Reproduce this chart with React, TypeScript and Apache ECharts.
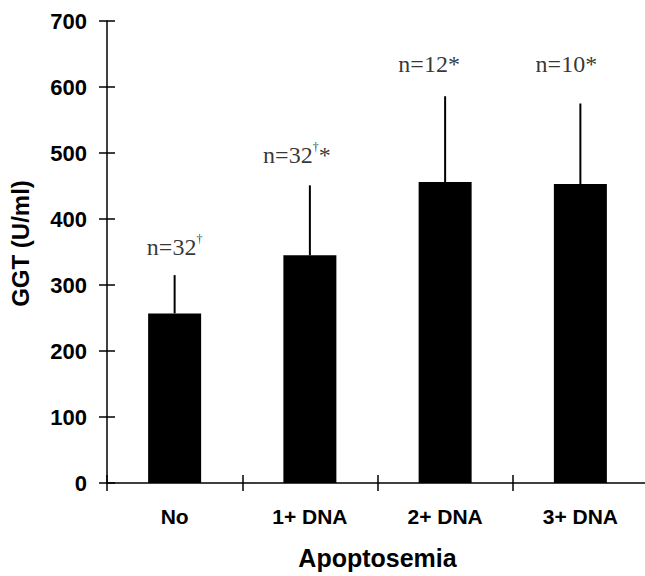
import React, { useEffect, useRef } from "react";
import * as echarts from "echarts";

const categories = ["No", "1+ DNA", "2+ DNA", "3+ DNA"];
const means = [257, 345, 456, 453];
const errUpper = [58, 106, 130, 122];
const groupN = ["32", "32", "12", "10"];
const groupSup = ["†", "†", "", ""];
const groupStar = ["", "*", "*", "*"];
const labelLevels = [357, 497, 635, 635];

const Y_MIN = 0;
const Y_MAX = 700;
const Y_STEP = 100;
const LABEL_SHIFT = [0, -13, -16, -14];

const SANS = "'Liberation Sans', Arial, Helvetica, sans-serif";
const SERIF = "'Liberation Serif', 'Times New Roman', serif";

export default function App() {
  const ref = useRef<HTMLDivElement>(null);

  useEffect(() => {
    if (!ref.current) return;
    const chart = echarts.init(ref.current, null, { renderer: "svg" });

    const axisLine = { show: true, lineStyle: { color: "#000", width: 1.5 } };
    const tickStyle = { color: "#000", width: 1.5 };

    const option: any = {
      animation: false,
      backgroundColor: "#fff",
      grid: {
        left: 107,
        right: -3,
        top: 21,
        bottom: 93,
        containLabel: false,
        outerBoundsMode: "none",
      },
      xAxis: [
        {
          type: "category",
          data: categories,
          position: "bottom",
          boundaryGap: true,
          axisLine,
          axisTick: { show: true, length: 8, inside: false, alignWithLabel: false, lineStyle: tickStyle },
          axisLabel: {
            margin: 23,
            color: "#000",
            fontFamily: SANS,
            fontWeight: "bold",
            fontSize: 21,
          },
          name: "Apoptosemia",
          nameLocation: "middle",
          nameGap: 62,
          nameTextStyle: { color: "#000", fontFamily: SANS, fontWeight: "bold", fontSize: 25 },
          splitLine: { show: false },
        },
        {
          type: "category",
          data: categories,
          position: "bottom",
          boundaryGap: true,
          axisLine: { show: false },
          axisTick: { show: true, length: 8, inside: true, lineStyle: tickStyle },
          axisLabel: { show: false },
          splitLine: { show: false },
        },
      ],
      yAxis: [
        {
          type: "value",
          min: Y_MIN,
          max: Y_MAX,
          interval: Y_STEP,
          position: "left",
          axisLine,
          axisTick: { show: true, length: 8, inside: false, lineStyle: tickStyle },
          axisLabel: {
            margin: 20,
            color: "#000",
            fontFamily: SANS,
            fontWeight: "bold",
            fontSize: 22,
          },
          splitLine: { show: false },
          name: "GGT (U/ml)",
          nameLocation: "middle",
          nameGap: 75,
          nameTextStyle: {
            color: "#000",
            fontFamily: SANS,
            fontWeight: "bold",
            fontSize: 24,
            padding: [0, 0, 0, 17],
          },
        },
        {
          type: "value",
          min: Y_MIN,
          max: Y_MAX,
          interval: Y_STEP,
          position: "left",
          axisLine: { show: false },
          axisTick: { show: true, length: 8, inside: true, lineStyle: tickStyle },
          axisLabel: { show: false },
          splitLine: { show: false },
        },
      ],
      series: [
        {
          type: "bar",
          data: means,
          barWidth: 53,
          itemStyle: { color: "#000" },
          xAxisIndex: 0,
          yAxisIndex: 0,
          z: 2,
        },
        {
          type: "custom",
          xAxisIndex: 0,
          yAxisIndex: 0,
          data: means.map((m, i) => [i, m, m + errUpper[i]]),
          encode: { x: 0, y: [1, 2] },
          renderItem: (_params: any, api: any) => {
            const x = api.value(0);
            const p0 = api.coord([x, api.value(1)]);
            const p1 = api.coord([x, api.value(2)]);
            return {
              type: "line",
              shape: { x1: p0[0], y1: p0[1], x2: p1[0], y2: p1[1] },
              style: { stroke: "#000", lineWidth: 2 },
            };
          },
          z: 3,
        },
        {
          type: "scatter",
          xAxisIndex: 0,
          yAxisIndex: 0,
          symbolSize: 0,
          silent: true,
          data: labelLevels.map((v, i) => ({
            value: [i, v],
            label: {
              show: true,
              position: "inside",
              offset: [LABEL_SHIFT[i], 0],
              formatter:
                `{b|n=${groupN[i]}}` +
                (groupSup[i] ? `{sup|${groupSup[i]}}` : "") +
                (groupStar[i] ? `{b|${groupStar[i]}}` : ""),
              rich: {
                b: { fontFamily: SERIF, fontSize: 24, color: "#000", lineHeight: 28, verticalAlign: "middle" },
                sup: { fontFamily: SERIF, fontSize: 12, color: "#000", lineHeight: 28, verticalAlign: "top" },
              },
            },
          })),
          z: 4,
        },
      ],
    };

    chart.setOption(option);
    return () => chart.dispose();
  }, []);

  return <div ref={ref} style={{ width: 645, height: 576, position: "absolute", left: 0, top: 0 }} />;
}
